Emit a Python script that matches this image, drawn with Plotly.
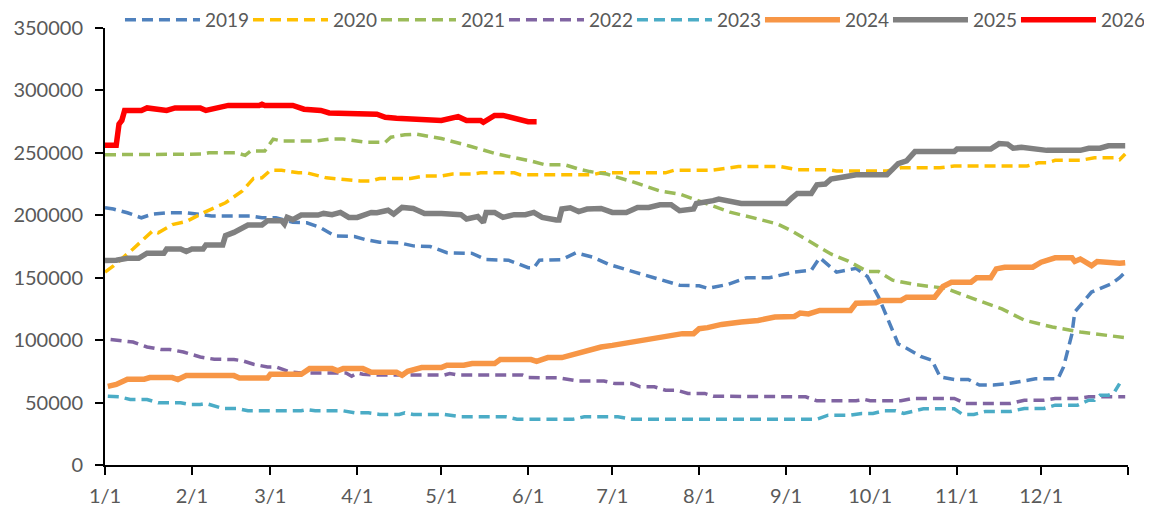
import plotly.graph_objects as go

BASE_YEAR = "2025"

dates_2019 = ["01-01","01-04","01-09","01-14","01-18","01-23","01-30","02-04","02-08","02-22","02-26","03-03","03-09","03-14","03-19","03-24","03-31","04-04","04-09","04-16","04-21","04-27","05-03","05-12","05-17","05-25","06-01","06-03","06-05","06-13","06-18","06-24","06-30","07-09","07-19","07-25","08-01","08-04","08-11","08-18","08-26","09-04","09-10","09-13","09-19","09-26","09-30","10-04","10-07","10-11","10-14","10-19","10-23","10-26","10-31","11-05","11-09","11-14","11-20","11-29","12-07","12-09","12-12","12-13","12-19","12-26","12-29","12-31"]
vals_2019 = [206000,205000,202000,198000,201000,202000,202000,200500,199500,199500,198000,198000,194500,194000,190000,183500,183000,180500,178500,178000,175500,175000,170000,169500,164500,164000,158000,158000,164000,164500,170000,166500,160500,154500,148000,144000,143500,141500,144500,150000,150000,154500,156000,166000,154500,157500,151000,134500,118500,97000,93500,87000,84000,70500,68500,68500,64000,64000,65500,69000,69000,78500,105000,122500,138500,145000,150000,154500]

dates_2020 = ["01-01","01-04","01-11","01-18","01-20","01-25","01-30","02-06","02-13","02-19","02-23","02-26","03-01","03-05","03-11","03-14","03-21","04-02","04-06","04-09","04-20","04-25","05-01","05-05","05-12","05-15","05-27","05-29","06-24","06-27","07-20","07-23","08-05","08-15","08-30","09-05","09-16","09-19","10-07","10-12","10-26","10-31","11-26","11-30","12-03","12-06","12-15","12-20","12-27","12-29","12-31"]
vals_2020 = [154500,159500,173000,187500,186000,192500,195000,203000,210000,219500,229500,230000,236000,236000,234000,234000,230000,227500,227500,229500,229500,231500,231500,233000,233000,234000,234000,232500,232500,234000,234000,236000,236000,239000,239000,236500,236500,235500,235500,238000,238000,239500,239500,242000,242000,244000,244000,246000,246000,244500,249000]

dates_2021 = ["01-01","02-05","02-07","02-17","02-20","02-22","02-27","03-02","03-05","03-17","03-22","03-27","04-04","04-11","04-13","04-18","04-22","05-01","05-11","05-21","06-02","06-07","06-14","06-19","06-23","06-29","07-08","07-18","07-25","08-01","08-12","08-22","08-29","09-03","09-11","09-17","09-23","09-30","10-04","10-09","10-17","10-28","11-07","11-17","11-25","12-05","12-15","12-31"]
vals_2021 = [248500,249000,250000,250000,248000,251500,251500,261000,259500,259500,261000,261000,258500,258500,262500,264500,265000,261500,255500,249000,243500,240500,240500,237000,235000,233000,227000,219500,217000,211500,202500,197000,193000,187500,177000,169000,163500,155000,155000,148000,144500,141500,133000,125000,116000,110500,106500,102000]

dates_2022 = ["01-03","01-06","01-11","01-16","01-21","01-24","01-29","02-04","02-09","02-16","02-19","02-23","02-28","03-03","03-08","03-12","03-28","03-30","04-01","04-03","04-09","05-02","05-04","05-07","05-30","06-01","06-12","06-19","06-28","07-02","07-08","07-11","07-16","07-20","07-24","07-28","08-03","08-06","09-08","09-12","09-26","09-29","10-01","10-12","10-16","10-31","11-04","11-20","11-25","12-02","12-06","12-14","12-18","12-31"]
vals_2022 = [100500,99500,98500,94500,92500,92500,90500,86500,84700,84500,83500,80700,78500,78500,74500,73700,73700,71100,73700,72700,72000,72000,73200,72000,72000,70000,69800,67300,67300,65200,65200,62600,62600,59900,59900,57300,57300,55100,54600,51400,51400,52500,51400,51400,53300,53300,49300,49300,51900,51900,53300,53300,54600,54600]

dates_2023 = ["01-02","01-06","01-10","01-16","01-20","01-28","01-31","02-04","02-06","02-12","02-17","02-21","03-12","03-14","03-17","03-27","03-31","04-05","04-09","04-16","04-18","04-21","05-02","05-06","05-08","05-24","05-28","06-17","06-21","07-03","07-08","09-12","09-16","09-24","09-28","10-02","10-06","10-10","10-13","10-20","10-31","11-03","11-07","11-11","11-20","11-25","12-02","12-06","12-14","12-18","12-20","12-22","12-25","12-27","12-29"]
vals_2023 = [55100,54600,52500,52500,49800,49800,48500,48500,49300,45300,45300,43400,43400,44400,43400,43400,41800,41800,40500,40500,41800,40500,40500,39400,38600,38600,36700,36700,38600,38600,36700,36700,39900,39900,41300,41300,43400,43400,41300,45000,45000,40500,40500,42800,42800,45300,45300,47900,47900,51900,51900,55900,55900,57800,65200]

dates_2024 = ["01-02","01-05","01-09","01-15","01-17","01-25","01-27","01-30","02-16","02-18","02-28","03-01","03-12","03-14","03-15","03-23","03-25","03-27","04-03","04-06","04-15","04-17","04-19","04-24","05-01","05-03","05-09","05-12","05-20","05-22","06-02","06-04","06-08","06-13","06-17","06-22","06-27","07-01","07-06","07-11","07-16","07-22","07-26","07-30","08-01","08-04","08-09","08-16","08-22","08-28","08-31","09-04","09-06","09-09","09-13","09-24","09-26","10-03","10-05","10-12","10-14","10-24","10-27","10-30","11-06","11-08","11-13","11-15","11-18","11-28","12-01","12-06","12-12","12-13","12-15","12-19","12-21","12-26","12-29","12-31"]
vals_2024 = [63000,64500,68700,68700,70000,70000,68400,71600,71600,69700,69700,72700,72700,76400,77200,77200,75400,77200,77200,74300,74300,71900,75000,78000,78000,79900,79900,81200,81200,84400,84400,83000,86000,86000,88700,91800,94500,95800,97700,98500,101200,103800,105200,105200,109200,110000,112600,114500,115800,118500,119000,119000,121700,121000,123800,123800,129600,130000,131800,131800,134400,134400,143000,146400,146400,149900,149900,157100,158400,158400,162400,165900,165900,163000,165000,159700,163000,161600,161600,162000]

dates_2025 = ["01-01","01-05","01-09","01-13","01-16","01-22","01-23","01-28","01-30","02-01","02-05","02-06","02-12","02-13","02-16","02-21","02-26","02-28","03-05","03-06","03-07","03-09","03-12","03-18","03-20","03-23","03-26","03-29","04-01","04-06","04-08","04-12","04-14","04-17","04-21","04-25","05-01","05-08","05-10","05-14","05-16","05-17","05-20","05-23","05-27","05-31","06-03","06-06","06-11","06-12","06-13","06-16","06-19","06-22","06-27","07-01","07-06","07-10","07-14","07-18","07-22","07-25","07-30","07-31","08-06","08-08","08-16","09-01","09-03","09-05","09-10","09-12","09-15","09-17","09-22","09-26","10-07","10-11","10-14","10-17","10-31","11-01","11-13","11-16","11-19","11-21","11-24","11-26","12-03","12-15","12-18","12-22","12-25","12-31"]
vals_2025 = [163700,164000,165600,165600,169600,169600,173000,173000,171000,173000,173000,176300,176300,183700,186300,192200,192200,195700,195700,193000,198300,196500,200200,200200,201500,200500,202300,198300,198300,202300,202000,204000,201000,206300,205500,201500,201500,200500,197000,199000,194300,202300,202300,198300,200500,200500,202300,198300,196200,196200,205000,206000,203000,205000,205500,202300,202300,206300,206300,208400,208400,203700,205000,209500,211700,213000,209500,209500,213800,217500,217500,224400,225000,229000,230800,232400,232400,241400,243600,251000,251000,253000,253000,257400,257000,253700,254500,253700,252000,252000,253700,253700,255600,255600]

dates_2026 = ["01-01","01-05","01-06","01-07","01-08","01-14","01-16","01-20","01-23","01-26","02-04","02-06","02-10","02-14","02-25","02-26","02-27","03-09","03-13","03-19","03-22","03-27","03-29","04-08","04-11","04-15","05-01","05-07","05-10","05-15","05-16","05-20","05-23","05-28","06-01","06-04"]
vals_2026 = [256000,256000,273000,276000,284000,284000,286000,285000,284000,286000,286000,284000,286000,288000,288000,289000,288000,288000,285000,284000,282000,282000,281000,281000,278500,277700,276000,279000,276000,276000,274500,280000,280000,277500,275000,275000]

series_names = ["2019", "2020", "2021", "2022", "2023", "2024", "2025", "2026"]
series_dates = [dates_2019, dates_2020, dates_2021, dates_2022, dates_2023, dates_2024, dates_2025, dates_2026]
series_vals = [vals_2019, vals_2020, vals_2021, vals_2022, vals_2023, vals_2024, vals_2025, vals_2026]
series_colors = ["#4F81BD", "#FFC000", "#9BBB59", "#8064A2", "#4BACC6", "#F79646", "#808080", "#FF0000"]
series_dashed = [True, True, True, True, True, False, False, False]

tick_months = ["01-01","02-01","03-01","04-01","05-01","06-01","07-01","08-01","09-01","10-01","11-01","12-01"]
tick_labels = ["1/1","2/1","3/1","4/1","5/1","6/1","7/1","8/1","9/1","10/1","11/1","12/1"]

fig = go.Figure()
for name, d, v, c, dashed in zip(series_names, series_dates, series_vals, series_colors, series_dashed):
    fig.add_trace(go.Scatter(
        x=[f"{BASE_YEAR}-{s}" for s in d], y=v, name=name, mode="lines",
        line=dict(color=c, width=3.5 if dashed else 5.5, dash="11px,6px" if dashed else "solid"),
    ))

FONT = "Lato"
# The page body has an 8px default margin, so the figure is offset by 8px.
W, H = 1155, 500
L, R, T, B = 97, 35, 20, 43
plot_h = H - T - B
fig.update_layout(
    width=W, height=H,
    margin=dict(l=L, r=R, t=T, b=B, autoexpand=False),
    plot_bgcolor="white", paper_bgcolor="white",
    font=dict(family=FONT, size=20, color="#595959"),
    showlegend=True,
    legend=dict(
        orientation="h", xref="paper", yref="paper",
        x=-0.001, y=1 + 8 / plot_h, xanchor="left", yanchor="middle",
        font=dict(family=FONT, size=19, color="#595959"),
        itemwidth=75, entrywidth=38, entrywidthmode="pixels",
        bgcolor="rgba(0,0,0,0)", bordercolor="rgba(0,0,0,0)", borderwidth=16,
        tracegroupgap=0,
    ),
    xaxis=dict(
        type="date",
        range=[f"{BASE_YEAR}-01-01", "2026-01-01"],
        tickvals=[f"{BASE_YEAR}-{m}" for m in tick_months] + ["2026-01-01"],
        ticktext=tick_labels + [""],
        showgrid=False, zeroline=False,
        showline=True, linecolor="#000000", linewidth=2,
        ticks="outside", ticklen=8, tickwidth=2, tickcolor="#000000",
        ticklabelstandoff=4,
    ),
    yaxis=dict(
        range=[0, 350000], tickvals=[0, 50000, 100000, 150000, 200000, 250000, 300000, 350000],
        tickformat="d",
        showgrid=False, zeroline=False,
        showline=True, linecolor="#000000", linewidth=2,
        ticks="outside", ticklen=8, tickwidth=2, tickcolor="#000000",
        ticklabelstandoff=8,
    ),
)

fig.write_html("out.html")
